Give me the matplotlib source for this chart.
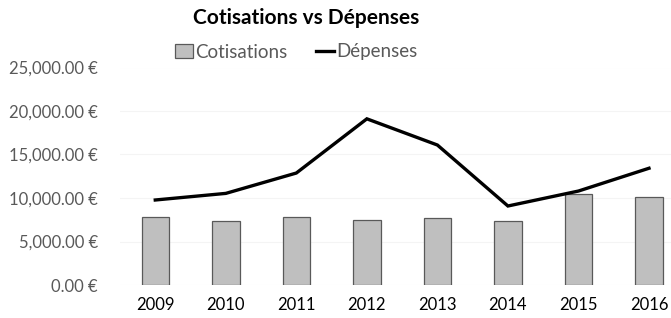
import matplotlib
matplotlib.use("Agg")
import matplotlib.pyplot as plt
import numpy as np

plt.rcParams['font.family'] = ['Lato', 'DejaVu Sans']

years = ["2009", "2010", "2011", "2012", "2013", "2014", "2015", "2016"]
cotisations = [7850, 7320, 7780, 7430, 7660, 7320, 10420, 10150]
depenses = [9770, 10530, 12870, 19100, 16090, 9080, 10800, 13420]
yticks = [0, 5000, 10000, 15000, 20000, 25000]

fig = plt.figure(figsize=(6.71, 3.18), dpi=100)
ax = fig.add_axes([120/671, 33/318, 551/671, 217.5/318])

x = np.arange(len(years))
bars = ax.bar(x, cotisations, width=0.39, color='#bfbfbf', edgecolor='#595959', linewidth=0.9,
              label='Cotisations', zorder=2)
line, = ax.plot(x, depenses, color='black', linewidth=2.4, label='Dépenses', zorder=3,
                solid_joinstyle='miter')

ax.set_xlim(-0.5, 7 + 22/70.5)
ax.set_ylim(0, 25000)
ax.set_xticks(x)
ax.set_xticklabels(years, fontsize=12, color='black')
ax.set_yticks(yticks)
ax.set_yticklabels(["{:,.2f} €".format(v) for v in yticks], fontsize=12, color='#595959')
ax.tick_params(axis='both', length=0)
ax.tick_params(axis='y', pad=16)
ax.tick_params(axis='x', pad=9)
for s in ax.spines.values():
    s.set_visible(False)
ax.grid(axis='y', color='#f4f4f4', linewidth=0.8, zorder=0)
ax.set_axisbelow(True)

fig.text(306/671, 1 - 18/318, "Cotisations vs Dépenses", ha='center', va='center',
         fontsize=15, fontweight='bold', color='black')
fig.legend([bars, line], ['Cotisations', 'Dépenses'], loc='center',
           bbox_to_anchor=(296/671, 1 - 52/318), ncol=2, frameon=False,
           fontsize=13.5, labelcolor='#595959', handlelength=1.0, handletextpad=0.1,
           columnspacing=1.5, borderpad=0, handleheight=0.8)

fig.savefig("out.png", dpi=100)
